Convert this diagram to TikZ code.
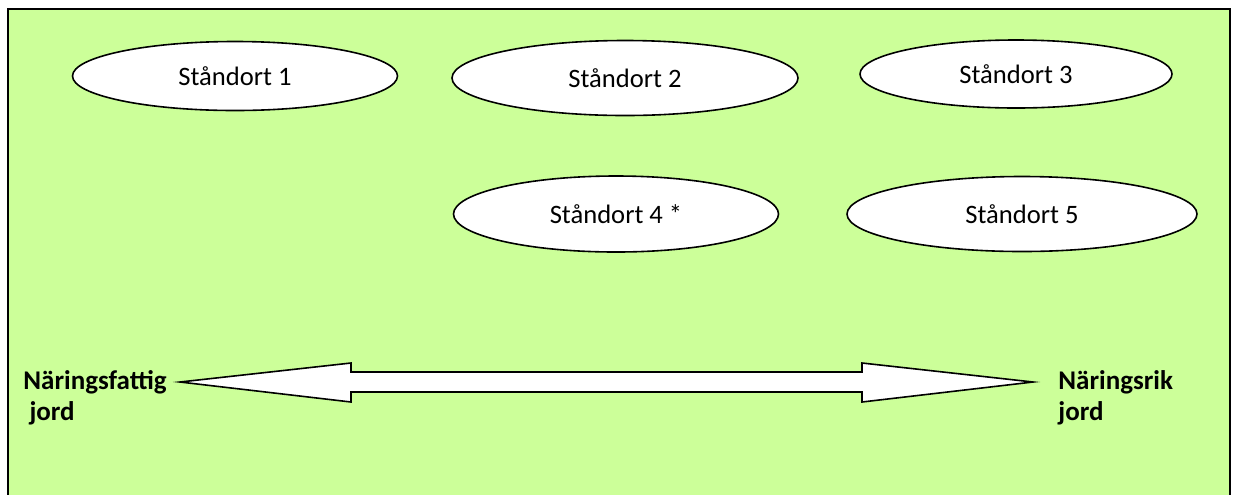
\documentclass[tikz,border=0pt]{standalone}
\usepackage{fontspec}
\setmainfont{Carlito}
\usetikzlibrary{shapes.geometric}
\definecolor{meadow}{HTML}{CCFF99}
\begin{document}
\begin{tikzpicture}[x=0.5pt,y=-0.5pt,
    site/.style={draw,line width=0.8pt,fill=white,ellipse,inner sep=0pt,font=\fontsize{13.3}{15.5}\selectfont},
    soil/.style={font=\fontsize{13.5}{15.5}\selectfont\bfseries,align=left,inner sep=0pt,anchor=north west}]
  \useasboundingbox (0,0) rectangle (1236,494);
  % frame, open at the bottom edge of the page
  \draw[line width=1pt,fill=meadow] (8,520) -- (8,9) -- (1230,9) -- (1230,520);
  \node[site,minimum width=162.5pt,minimum height=34.5pt] (s1) at (235,76) {Ståndort 1};
  \node[site,minimum width=173pt,minimum height=37.5pt] (s2) at (625,78) {Ståndort 2};
  \node[site,minimum width=156pt,minimum height=34pt] (s3) at (1016,74) {Ståndort 3};
  \node[site,minimum width=162.5pt,minimum height=38pt] (s4) at (616,214) {Ståndort 4 *};
  \node[site,minimum width=175pt,minimum height=37.5pt] (s5) at (1022,214) {Ståndort 5};
  % double block arrow
  \draw[line width=0.8pt,fill=white] (180,382) -- (351,363) -- (351,372) -- (862,372) -- (862,363)
    -- (1033,382) -- (862,402) -- (862,392) -- (351,392) -- (351,402) -- cycle;
  \node[soil] (poor) at (23,370) {Näringsfattig\\\ jord};
  \node[soil] (rich) at (1058,370) {Näringsrik\\jord};
\end{tikzpicture}
\end{document}
